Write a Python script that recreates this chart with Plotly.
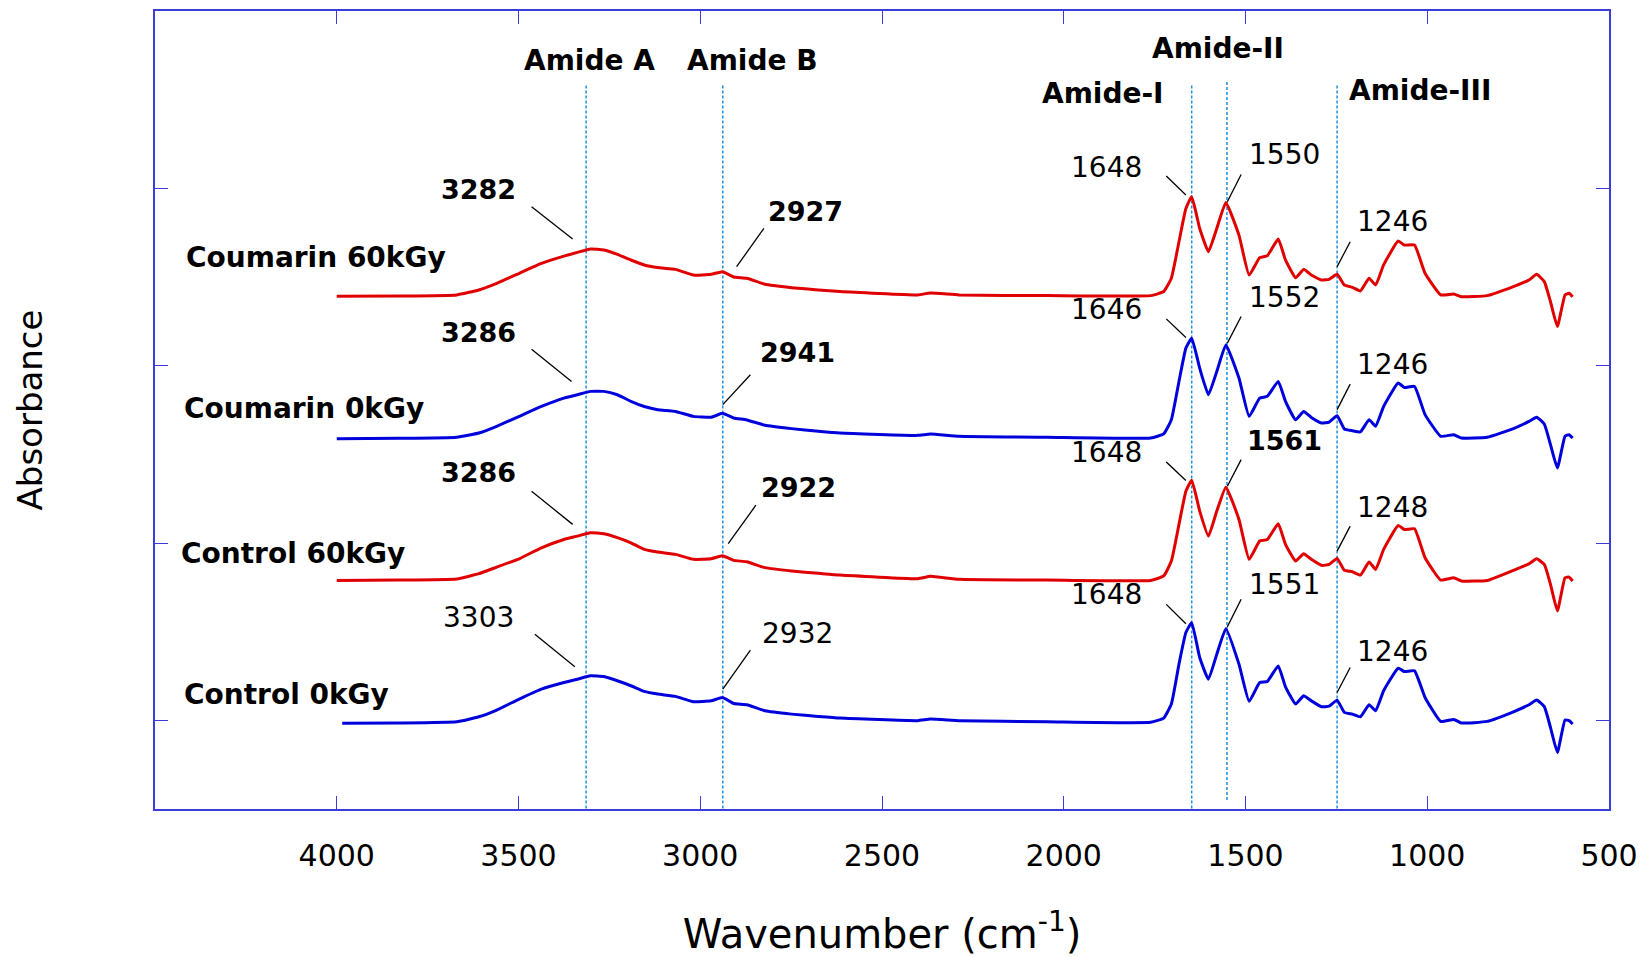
import plotly.graph_objects as go

# ---------------- data ----------------
wavenumber = [4000, 3830, 3670, 3609, 3560, 3498, 3437, 3375, 3338, 3302, 3265, 3228, 3191, 3154,
              3117, 3068, 3019, 2970, 2939, 2908, 2872, 2822, 2749, 2675, 2616,
              2402, 2367, 2288, 2046, 1761, 1725, 1704, 1683, 1664, 1648,
              1626, 1602, 1579, 1554, 1518, 1490, 1461, 1440, 1410, 1390,
              1362, 1340, 1319, 1291, 1270, 1248, 1228, 1206, 1184, 1160,
              1142, 1120, 1080, 1063, 1035, 1006, 963, 927, 906, 835,
              763, 720, 699, 678, 661, 642, 621, 610, 600]
wavenumber_control0 = [3985] + wavenumber[1:]

coumarin_60kgy = [2.391, 2.393, 2.399, 2.427, 2.464, 2.521, 2.577, 2.618, 2.639, 2.658, 2.652, 2.628, 2.596, 2.568,
                  2.553, 2.543, 2.511, 2.515, 2.530, 2.500, 2.493, 2.459, 2.440, 2.427, 2.418,
                  2.399, 2.410, 2.399, 2.395, 2.395, 2.418, 2.493, 2.699, 2.886, 2.952,
                  2.774, 2.643, 2.774, 2.920, 2.736, 2.511, 2.609, 2.620, 2.714, 2.596,
                  2.496, 2.543, 2.511, 2.483, 2.487, 2.515, 2.455, 2.442, 2.421, 2.493,
                  2.455, 2.568, 2.703, 2.680, 2.680, 2.521, 2.399, 2.404, 2.389, 2.395,
                  2.446, 2.483, 2.515, 2.474, 2.361, 2.221, 2.399, 2.408, 2.389]
coumarin_0kgy = [1.588, 1.590, 1.596, 1.620, 1.658, 1.714, 1.770, 1.817, 1.836, 1.855, 1.855, 1.836, 1.799, 1.770,
                 1.752, 1.742, 1.714, 1.709, 1.731, 1.705, 1.694, 1.664, 1.645, 1.630, 1.620,
                 1.607, 1.615, 1.602, 1.596, 1.592, 1.615, 1.695, 1.911, 2.099, 2.155,
                 1.986, 1.836, 1.967, 2.117, 1.930, 1.714, 1.817, 1.827, 1.911, 1.799,
                 1.695, 1.742, 1.708, 1.677, 1.682, 1.718, 1.643, 1.633, 1.626, 1.695,
                 1.658, 1.770, 1.902, 1.877, 1.883, 1.724, 1.602, 1.611, 1.592, 1.596,
                 1.645, 1.686, 1.709, 1.671, 1.555, 1.423, 1.602, 1.611, 1.592]
control_60kgy = [0.789, 0.791, 0.797, 0.827, 0.864, 0.911, 0.973, 1.020, 1.039, 1.058, 1.052, 1.030, 1.001, 0.964,
                 0.949, 0.936, 0.908, 0.911, 0.928, 0.902, 0.894, 0.861, 0.842, 0.829, 0.819,
                 0.799, 0.812, 0.795, 0.791, 0.789, 0.814, 0.898, 1.105, 1.292, 1.354,
                 1.180, 1.039, 1.180, 1.315, 1.133, 0.908, 1.011, 1.020, 1.108, 0.992,
                 0.898, 0.939, 0.908, 0.874, 0.879, 0.913, 0.846, 0.838, 0.819, 0.893,
                 0.851, 0.964, 1.099, 1.076, 1.080, 0.917, 0.791, 0.804, 0.786, 0.789,
                 0.846, 0.883, 0.911, 0.879, 0.767, 0.617, 0.804, 0.808, 0.786]
control_0kgy = [-0.017, -0.015, -0.008, 0.020, 0.058, 0.120, 0.176, 0.213, 0.232, 0.251, 0.247, 0.223, 0.195, 0.163,
                0.148, 0.135, 0.105, 0.110, 0.129, 0.095, 0.088, 0.054, 0.035, 0.022, 0.013,
                -0.002, 0.007, -0.002, -0.008, -0.011, 0.013, 0.092, 0.317, 0.495, 0.551,
                0.354, 0.232, 0.373, 0.517, 0.317, 0.107, 0.213, 0.219, 0.307, 0.189,
                0.092, 0.138, 0.110, 0.077, 0.080, 0.114, 0.045, 0.035, 0.020, 0.088,
                0.054, 0.167, 0.294, 0.275, 0.279, 0.129, -0.006, 0.005, -0.015, -0.006,
                0.048, 0.088, 0.114, 0.077, -0.040, -0.181, 0.002, -0.002, -0.021]

sample_names = ["Coumarin 60kGy", "Coumarin 0kGy", "Control 60kGy", "Control 0kGy"]
sample_label_x = [4420, 4426, 4434, 4426]
sample_label_y = [2.609, 1.759, 0.938, 0.144]

x_tick_values = [4000, 3500, 3000, 2500, 2000, 1500, 1000, 500]
y_tick_values = [0, 1, 2, 3]

band_names = ["Amide A", "Amide B", "Amide-I", "Amide-II", "Amide-III"]
band_line_pos = [3314, 2938, 1648, 1551, 1248]
band_line_top = [3.58, 3.58, 3.58, 3.60, 3.58]
band_line_bottom = [-0.5, -0.5, -0.5, -0.46, -0.5]
band_label_x = [3304, 2855, 1891, 1577, 1020]
band_label_y = [3.723, 3.723, 3.537, 3.787, 3.549]

peak_text = ["3282", "2927", "1648", "1550", "1246",
             "3286", "2941", "1646", "1552", "1246",
             "3286", "2922", "1648", "1561", "1248",
             "3303", "2932", "1648", "1551", "1246"]
peak_bold = [True, True, False, False, False,
             True, True, False, False, False,
             True, True, False, True, False,
             False, False, False, False, False]
peak_label_x = [3610, 2710, 1882, 1394, 1095,
                3610, 2733, 1882, 1394, 1095,
                3610, 2729, 1882, 1394, 1095,
                3610, 2733, 1882, 1394, 1095]
peak_label_y = [2.991, 2.868, 3.115, 3.191, 2.811,
                2.187, 2.076, 2.316, 2.387, 2.007,
                1.399, 1.311, 1.508, 1.579, 1.200,
                0.579, 0.487, 0.712, 0.767, 0.388]
leader_x0 = [3464, 2825, 1718, 1512, 1212,
             3464, 2862, 1718, 1512, 1212,
             3464, 2847, 1718, 1512, 1212,
             3455, 2862, 1718, 1512, 1212]
leader_y0 = [2.896, 2.774, 3.070, 3.078, 2.699,
             2.093, 1.949, 2.264, 2.277, 1.896,
             1.292, 1.213, 1.457, 1.470, 1.095,
             0.486, 0.396, 0.654, 0.683, 0.298]
leader_x1 = [3351, 2900, 1664, 1550, 1248,
             3354, 2938, 1664, 1550, 1248,
             3351, 2923, 1664, 1550, 1248,
             3345, 2938, 1664, 1550, 1248]
leader_y1 = [2.714, 2.558, 2.962, 2.924, 2.558,
             1.911, 1.780, 2.159, 2.127, 1.752,
             1.105, 0.996, 1.352, 1.320, 0.954,
             0.302, 0.176, 0.545, 0.527, 0.157]

# ---------------- styles ----------------
RED = "#e00000"
BLUE = "#0000dd"
FRAME = "#3c3cdc"
DASH = "#1e8fdc"
TXT_FONT = "DejaVu Sans"
AX_FONT = "DejaVu Sans"

fig = go.Figure()
series = [(wavenumber, coumarin_60kgy, RED),
          (wavenumber, coumarin_0kgy, BLUE),
          (wavenumber, control_60kgy, RED),
          (wavenumber_control0, control_0kgy, BLUE)]
for name, (xs, ys, col) in zip(sample_names, series):
    fig.add_trace(go.Scatter(x=xs, y=ys, mode="lines", name=name,
                             line=dict(color=col, width=3, shape="spline", smoothing=0.4),
                             showlegend=False, hoverinfo="x+y+name"))

# vertical band lines
for pos, y0, y1 in zip(band_line_pos, band_line_top, band_line_bottom):
    fig.add_shape(type="line", xref="x", yref="y", x0=pos, x1=pos, y0=y0, y1=y1,
                  line=dict(color=DASH, width=1.5, dash="3px,2px"), layer="below")

# leader lines
for x0, y0, x1, y1 in zip(leader_x0, leader_y0, leader_x1, leader_y1):
    fig.add_shape(type="line", xref="x", yref="y", x0=x0, y0=y0, x1=x1, y1=y1,
                  line=dict(color="black", width=1.3))

annotations = []
for name, x, y in zip(sample_names, sample_label_x, sample_label_y):
    annotations.append(dict(x=x, y=y, xref="x", yref="y", text=name, showarrow=False,
                            xanchor="left", yanchor="middle",
                            font=dict(family=TXT_FONT, size=28, color="black", weight="bold")))
for name, x, y in zip(band_names, band_label_x, band_label_y):
    annotations.append(dict(x=x, y=y, xref="x", yref="y", text=name, showarrow=False,
                            xanchor="center", yanchor="middle",
                            font=dict(family=TXT_FONT, size=28, color="black", weight="bold")))
for t, b, x, y in zip(peak_text, peak_bold, peak_label_x, peak_label_y):
    annotations.append(dict(x=x, y=y, xref="x", yref="y", text=t, showarrow=False,
                            xanchor="center", yanchor="middle",
                            font=dict(family=TXT_FONT, size=27 if b else 28, color="black",
                                      weight="bold" if b else "normal")))

fig.update_layout(
    width=1636, height=949,
    margin=dict(l=147, r=35, t=1, b=148),
    paper_bgcolor="white", plot_bgcolor="white",
    annotations=annotations,
    xaxis=dict(range=[4500, 500], tickvals=x_tick_values, ticks="inside", ticklen=13,
               tickwidth=1.2, tickcolor=FRAME, showline=True, linecolor=FRAME, linewidth=1.8,
               mirror="ticks", showgrid=False, zeroline=False,
               tickfont=dict(family=AX_FONT, size=30, color="black"),
               ticklabelstandoff=19,
               title=dict(text="Wavenumber (cm<sup>-1</sup>)", standoff=52,
                          font=dict(family=AX_FONT, size=40, color="black"))),
    yaxis=dict(range=[-0.5, 4.0], tickvals=y_tick_values, ticks="inside", ticklen=13,
               tickwidth=1.2, tickcolor=FRAME, showline=True, linecolor=FRAME, linewidth=1.8,
               mirror="ticks", showgrid=False, zeroline=False, showticklabels=False,
               automargin=True,
               title=dict(text="Absorbance", standoff=100,
                          font=dict(family=AX_FONT, size=34, color="black"))),
)

fig.write_html("out.html")
